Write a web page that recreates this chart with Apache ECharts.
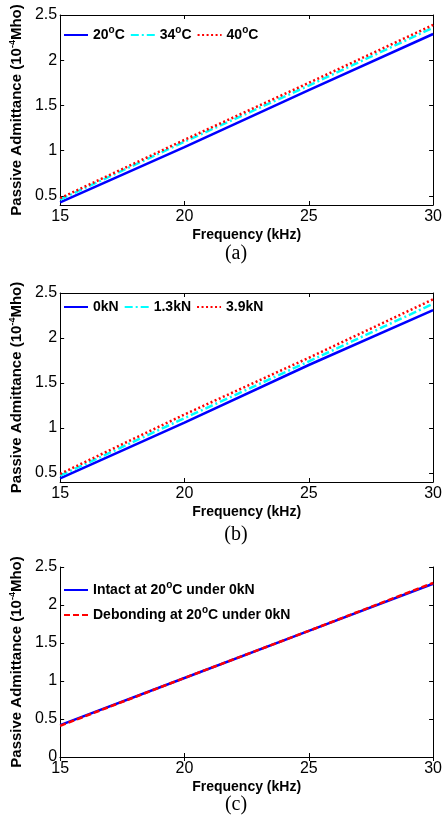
<!DOCTYPE html>
<html>
<head>
<meta charset="utf-8">
<script src="https://cdn.jsdelivr.net/npm/echarts@6/dist/echarts.min.js"></script>
<style>html,body{margin:0;padding:0;background:#fff;}#c{width:445px;height:831px;}</style>
</head>
<body>
<div id="c"></div>
<script>
// ---- data ----
var freq = [15, 20, 25, 30];
var xTicks = [15, 20, 25, 30];
var yTicksAB = [0.5, 1, 1.5, 2, 2.5];
var yTicksC = [0, 0.5, 1, 1.5, 2, 2.5];

var namesA = ['20°C', '34°C', '40°C'];
var tempA20 = [0.43, 1.04, 1.67, 2.29];
var tempA34 = [0.46, 1.10, 1.72, 2.36];
var tempA40 = [0.475, 1.12, 1.75, 2.39];

var namesB = ['0kN', '1.3kN', '3.9kN'];
var loadB0 = [0.44, 1.06, 1.70, 2.31];
var loadB13 = [0.47, 1.11, 1.74, 2.38];
var loadB39 = [0.49, 1.15, 1.78, 2.43];

var namesC = ['Intact at 20°C under 0kN', 'Debonding at 20°C under 0kN'];
var intactC = [0.42, 1.04, 1.66, 2.28];
var debondC = [0.41, 1.04, 1.66, 2.29];

var captions = ['(a)', '(b)', '(c)'];

// ---- helpers ----
function pairs(xs, ys) { return xs.map(function (x, i) { return [x, ys[i]]; }); }
var FONT = '"Liberation Sans", Arial, sans-serif';
var grids = [
  {left: 55, top: 15, width: 382, height: 190},
  {left: 55, top: 293, width: 382, height: 189},
  {left: 55, top: 567, width: 382, height: 190}
];
var yRanges = [[0.4, 2.5], [0.4, 2.5], [0, 2.5]];
var yTickSets = [yTicksAB, yTicksAB, yTicksC];
var axisLine = {show: true, lineStyle: {color: '#000', width: 1}};

var xAxes = [], yAxes = [];
grids.forEach(function (g, i) {
  xAxes.push({
    type: 'value', gridIndex: i, position: 'bottom', min: 15, max: 30,
    axisLine: axisLine,
    axisTick: {inside: true, length: 4, lineStyle: {color: '#000'}, customValues: xTicks},
    axisLabel: {color: '#000', fontSize: 16, fontFamily: FONT, margin: 4, customValues: xTicks},
    splitLine: {show: false},
    name: 'Frequency (kHz)', nameLocation: 'middle', nameGap: 23,
    nameTextStyle: {color: '#000', fontSize: 14, fontWeight: 'bold', fontFamily: FONT}
  });
  xAxes.push({
    type: 'value', gridIndex: i, position: 'top', min: 15, max: 30,
    axisLine: axisLine,
    axisTick: {inside: true, length: 4, lineStyle: {color: '#000'}, customValues: xTicks},
    axisLabel: {show: false}, splitLine: {show: false}
  });
  yAxes.push({
    type: 'value', gridIndex: i, position: 'left', min: yRanges[i][0], max: yRanges[i][1],
    axisLine: axisLine,
    axisTick: {inside: true, length: 4, lineStyle: {color: '#000'}, customValues: yTickSets[i]},
    axisLabel: {color: '#000', fontSize: 16, fontFamily: FONT, margin: 3, customValues: yTickSets[i]},
    splitLine: {show: false},
    name: 'Passive Admittance (10{sup|-4}Mho)', nameLocation: 'middle', nameGap: 34, nameRotate: 90,
    nameTextStyle: {color: '#000', fontSize: 15, fontWeight: 'bold', fontFamily: FONT,
      rich: {sup: {fontSize: 9, fontWeight: 'bold', fontFamily: FONT, color: '#000', padding: [0, 0, 8, 0]}}}
  });
  yAxes.push({
    type: 'value', gridIndex: i, position: 'right', min: yRanges[i][0], max: yRanges[i][1],
    axisLine: axisLine,
    axisTick: {inside: true, length: 4, lineStyle: {color: '#000'}, customValues: yTickSets[i]},
    axisLabel: {show: false}, splitLine: {show: false}
  });
});

function line(name, gi, data, color, type, width) {
  return {
    type: 'line', name: name, xAxisIndex: gi * 2, yAxisIndex: gi * 2,
    data: pairs(freq, data), showSymbol: false, symbol: 'none', silent: true, animation: false,
    lineStyle: {color: color, type: type, width: width}, itemStyle: {color: color}
  };
}

var series = [
  line(namesA[0], 0, tempA20, '#0000FF', 'solid', 2.5),
  line(namesA[1], 0, tempA34, '#00FFFF', [8, 3, 2, 3], 2.5),
  line(namesA[2], 0, tempA40, '#FF0000', [2, 2.5], 2.5),
  line(namesB[0], 1, loadB0, '#0000FF', 'solid', 2.5),
  line(namesB[1], 1, loadB13, '#00FFFF', [8, 3, 2, 3], 2.5),
  line(namesB[2], 1, loadB39, '#FF0000', [2, 2.5], 2.5),
  line(namesC[0], 2, intactC, '#0000FF', 'solid', 2.5),
  line(namesC[1], 2, debondC, '#FF0000', [6, 3], 2.5)
];

var legendText = {
  color: '#000', fontSize: 14, fontWeight: 'bold', fontFamily: FONT,
  rich: {sup: {fontSize: 10, fontWeight: 'bold', fontFamily: FONT, color: '#000', padding: [0, 0, 10, 0]}}
};
function legendFmt(n) { return n.replace('°', '{sup|o}'); }
function legend(names, top, orient) {
  return {
    data: names, left: 63, top: top, orient: orient, itemWidth: 24, itemHeight: 14,
    itemGap: orient === 'vertical' ? 8 : 5, padding: 0, selectedMode: false,
    itemStyle: {opacity: 0, color: 'rgba(0,0,0,0)', borderWidth: 0},
    textStyle: legendText, formatter: legendFmt
  };
}

var titleTops = [244, 525, 795];
var option = {
  animation: false,
  backgroundColor: '#fff',
  title: captions.map(function (t, i) {
    return {text: t, left: 236, textAlign: 'center', top: titleTops[i], padding: 0,
      textStyle: {color: '#000', fontSize: 20, fontWeight: 'normal', fontFamily: '"Liberation Serif", "Times New Roman", serif'}};
  }),
  grid: grids,
  xAxis: xAxes,
  yAxis: yAxes,
  legend: [legend(namesA, 25, 'horizontal'), legend(namesB, 300, 'horizontal'), legend(namesC, 580, 'vertical')],
  series: series
};
var chart = echarts.init(document.getElementById('c'), null, {renderer: 'canvas'});
chart.setOption(option);
</script>
</body>
</html>
